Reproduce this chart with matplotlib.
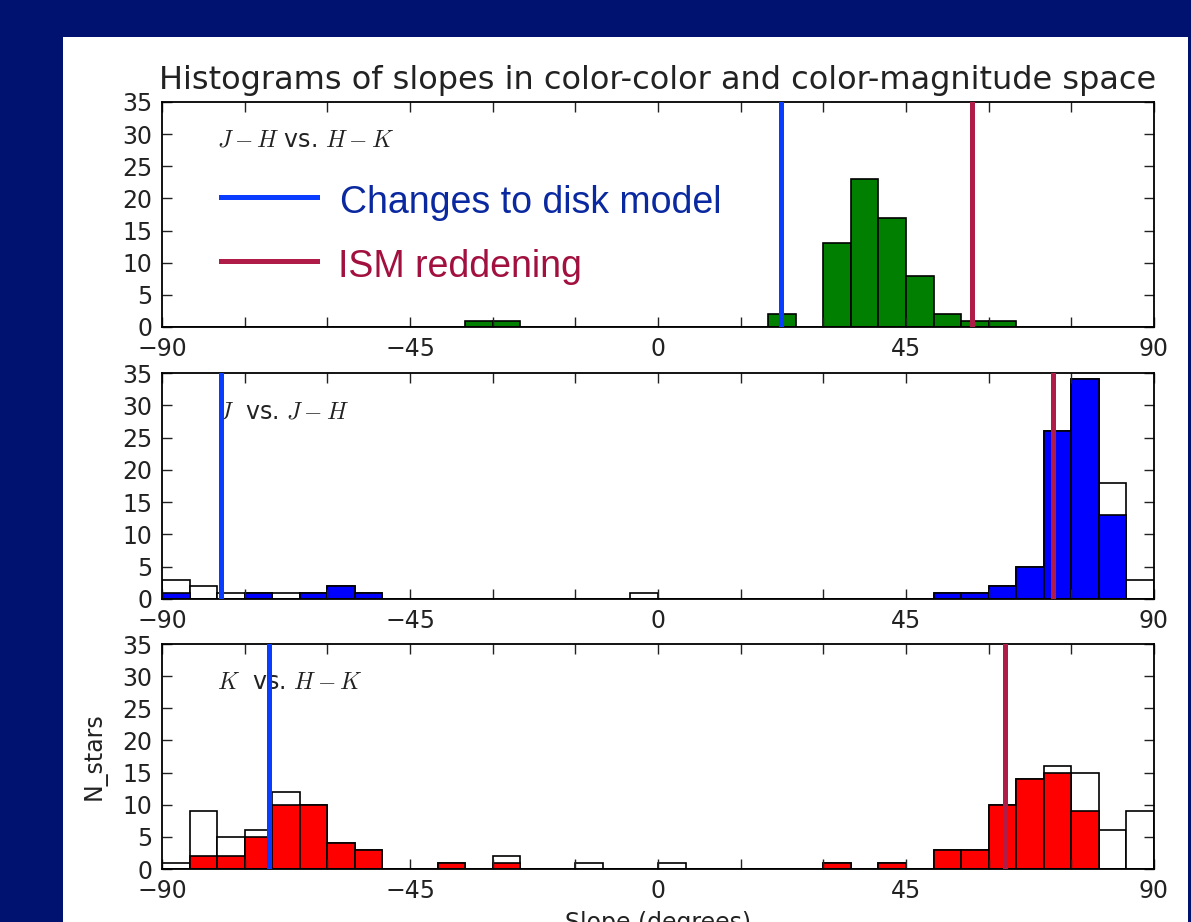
import numpy as np
import matplotlib
matplotlib.use("Agg")
import matplotlib.pyplot as plt
from matplotlib.lines import Line2D
from matplotlib.patches import Rectangle

plt.rcParams['mathtext.fontset'] = 'cm'
plt.rcParams['font.family'] = 'DejaVu Sans'

# 5 degree bins from -90 to 90
bin_edges = np.arange(-90, 91, 5)

# J-H vs H-K
cc_counts = [0, 0, 0, 0, 0, 0, 0, 0, 0, 0, 0, 1, 1, 0, 0, 0, 0, 0,
             0, 0, 0, 0, 2, 0, 13, 23, 17, 8, 2, 1, 1, 0, 0, 0, 0, 0]

# J vs J-H
jj_all = [3, 2, 1, 1, 1, 1, 2, 1, 0, 0, 0, 0, 0, 0, 0, 0, 0, 1,
          0, 0, 0, 0, 0, 0, 0, 0, 0, 0, 1, 1, 2, 5, 26, 34, 18, 3]
jj_sel = [1, 0, 0, 1, 0, 1, 2, 1, 0, 0, 0, 0, 0, 0, 0, 0, 0, 0,
          0, 0, 0, 0, 0, 0, 0, 0, 0, 0, 1, 1, 2, 5, 26, 34, 13, 0]

# K vs H-K
kk_all = [1, 9, 5, 6, 12, 10, 4, 3, 0, 0, 1, 0, 2, 0, 0, 1, 0, 0,
          1, 0, 0, 0, 0, 0, 1, 0, 1, 0, 3, 3, 10, 14, 16, 15, 6, 9]
kk_sel = [0, 2, 2, 5, 10, 10, 4, 3, 0, 0, 1, 0, 1, 0, 0, 0, 0, 0,
          0, 0, 0, 0, 0, 0, 1, 0, 1, 0, 3, 3, 10, 14, 15, 9, 0, 0]

disk_slopes = [22.3, -79.3, -70.6]
ism_slopes = [57.0, 71.6, 63.0]

panel_labels = [r'$J-H$ vs. $H-K$', r'$J$  vs. $J-H$', r'$K$  vs. $H-K$']

navy = '#00126f'
blue_line = '#0a3cff'
red_line = '#b01c48'

W, H = 1191, 922
fig = plt.figure(figsize=(W / 100, H / 100), dpi=100, facecolor=navy)
fig.patches.append(Rectangle((63 / W, 0), (1188 - 63) / W, 1 - 37 / H,
                             transform=fig.transFigure, facecolor='white',
                             edgecolor='none', zorder=-10))

# axes boxes in pixels (top, bottom)
boxes = [(102, 327), (373, 599), (644, 869)]
left, right = 162, 1154
axes = []
for top, bot in boxes:
    ax = fig.add_axes([left / W, 1 - bot / H, (right - left) / W, (bot - top) / H])
    axes.append(ax)

widths = np.diff(bin_edges)
lefts = bin_edges[:-1]

axes[0].bar(lefts, cc_counts, width=widths, align='edge', color='#007f00',
            edgecolor='black', linewidth=1.2)
axes[1].bar(lefts, jj_all, width=widths, align='edge', color='white',
            edgecolor='black', linewidth=1.2)
axes[1].bar(lefts, jj_sel, width=widths, align='edge', color='#0000ff',
            edgecolor='black', linewidth=1.2)
axes[2].bar(lefts, kk_all, width=widths, align='edge', color='white',
            edgecolor='black', linewidth=1.2)
axes[2].bar(lefts, kk_sel, width=widths, align='edge', color='#ff0000',
            edgecolor='black', linewidth=1.2)

xt = np.arange(-90, 91, 15)
xl = ['\u221290', '', '', '\u221245', '', '', '0', '', '', '45', '', '', '90']
for i, ax in enumerate(axes):
    ax.axvline(disk_slopes[i], ymin=0.012, color=blue_line, lw=3.6, zorder=5)
    ax.axvline(ism_slopes[i], ymin=0.012, color=red_line, lw=3.6, zorder=5)
    ax.set_xlim(-90, 90)
    ax.set_ylim(0, 35)
    ax.set_xticks(xt)
    ax.set_xticklabels(xl)
    ax.set_yticks(np.arange(0, 36, 5))
    ax.tick_params(direction='in', top=True, right=True, length=7, width=1,
                   labelsize=17, pad=7, colors='#222222')
    for s in ax.spines.values():
        s.set_linewidth(1.3)
    ax.text(-80, 28, panel_labels[i], fontsize=17, va='baseline', color='#222222')

axes[0].set_title('Histograms of slopes in color-color and color-magnitude space',
                  fontsize=23, pad=9, color='#222222')
axes[2].set_ylabel('N_stars', fontsize=17, labelpad=11, color='#222222')
axes[2].set_xlabel('Slope (degrees)', fontsize=17, labelpad=6, color='#222222')

# slide legend
fig.lines.append(Line2D([221 / W, 317 / W], [1 - 196.7 / H] * 2, color=blue_line,
                        lw=3.6, transform=fig.transFigure))
fig.lines.append(Line2D([221 / W, 317 / W], [1 - 260.7 / H] * 2, color=red_line,
                        lw=3.6, transform=fig.transFigure))
fig.text(340 / W, 1 - 212.7 / H, 'Changes to disk model', color='#0a28a0',
         fontsize=27, family='Liberation Sans', va='baseline')
fig.text(338 / W, 1 - 276.7 / H, 'ISM reddening', color='#a1103e',
         fontsize=27, family='Liberation Sans', va='baseline')

fig.savefig('out.png', dpi=100, facecolor=navy)
